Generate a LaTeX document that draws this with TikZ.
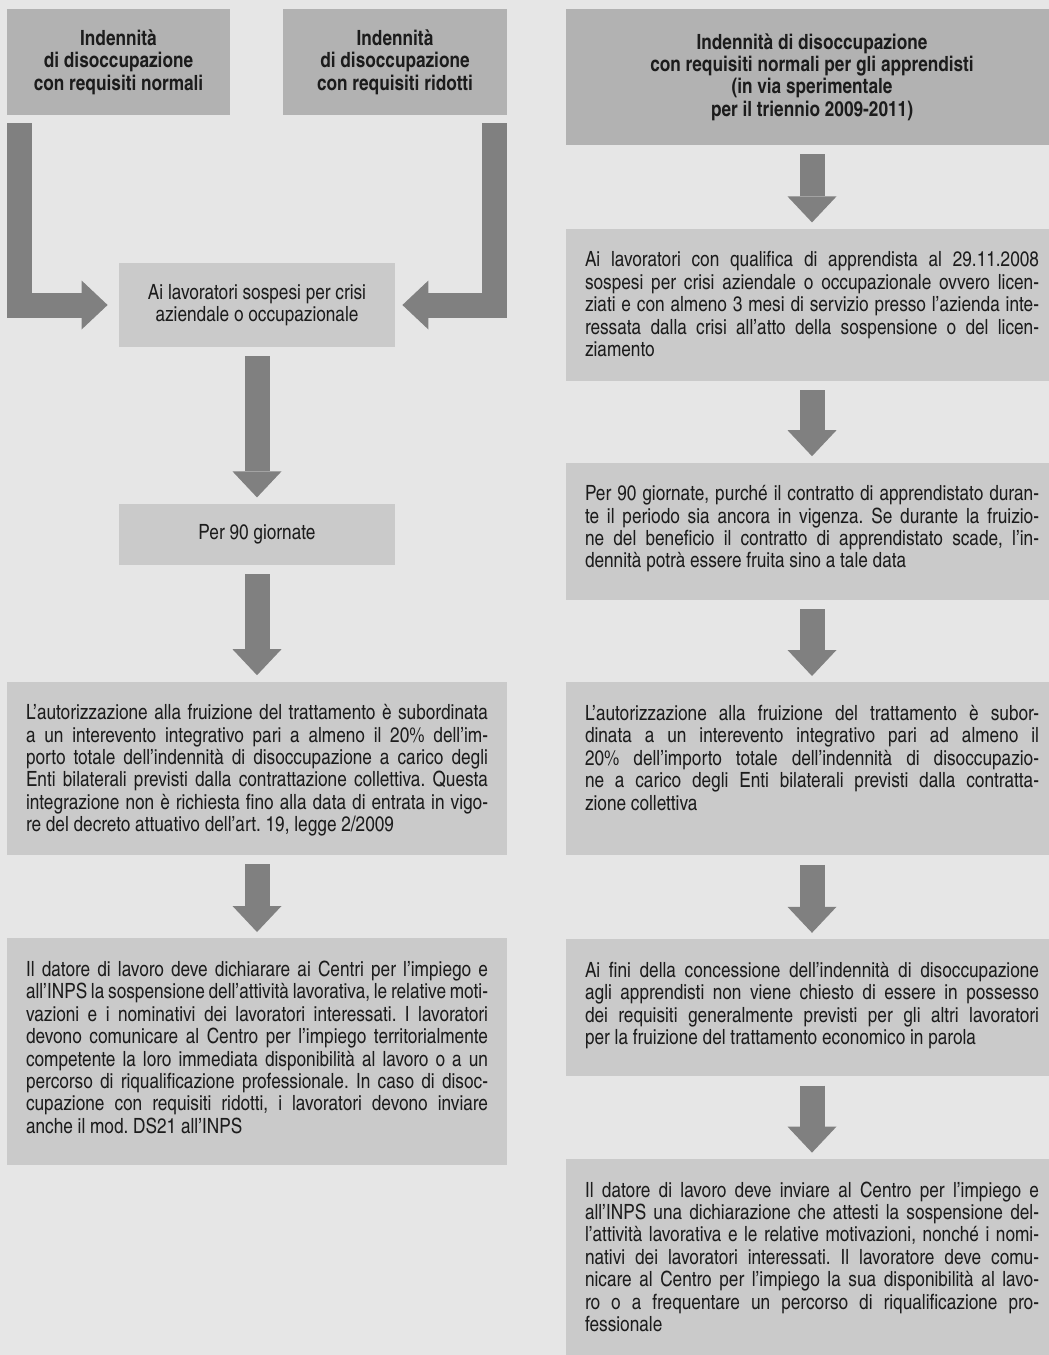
\documentclass[tikz,border=0pt]{standalone}
\usepackage{fontspec}
\setmainfont{texgyreheroscn}[Extension=.otf, UprightFont=*-regular, BoldFont=*-bold,
  ItalicFont=*-italic, BoldItalicFont=*-bolditalic]
\usetikzlibrary{positioning, arrows.meta}

\definecolor{bggray}{RGB}{230,230,230}
\definecolor{headgray}{RGB}{178,178,178}
\definecolor{boxgray}{RGB}{202,202,202}
\definecolor{arrowgray}{RGB}{128,128,128}
\definecolor{inkgray}{RGB}{28,28,28}
\newcommand{\txtfont}{\fontsize{10.5pt}{11.2pt}\selectfont}
\hyphenpenalty=10000
\tolerance=9999
\frenchspacing

\begin{document}
\begin{tikzpicture}[x=0.5pt, y=-0.5pt, node distance=41pt,
  head/.style={fill=headgray, text=inkgray, font=\txtfont\bfseries, align=center, inner sep=0pt},
  plain/.style={fill=boxgray, text=inkgray, font=\txtfont, align=center, inner sep=0pt,
    minimum width=138pt},
  pane/.style={fill=boxgray, text=inkgray, font=\txtfont, align=justify,
    inner xsep=9.5pt, inner ysep=11pt, text height=8pt},
  flow/.style={draw=arrowgray, line width=12.5pt,
    -{Triangle[length=13pt, width=24.5pt, line width=0pt]},
    shorten <=4.5pt, shorten >=3pt}]
\useasboundingbox[fill=bggray] (0,0) rectangle (1049,1355);

% left column
\node[head, minimum width=111.5pt, minimum height=53pt] (normali) at (118.5,62)
  {Indennità\\di disoccupazione\\con requisiti normali};
\node[head, minimum width=112pt, minimum height=53pt] (ridotti) at (395,62)
  {Indennità\\di disoccupazione\\con requisiti ridotti};
\node[plain, minimum height=42pt] (sospesi) at (257,305)
  {Ai lavoratori sospesi per crisi\\aziendale o occupazionale};
\node[plain, minimum height=30.5pt, below=78pt of sospesi] (giorni) {Per 90 giornate};
\node[pane, text width=231pt, text depth=56.5pt, below=58pt of giorni] (integr)
  {L’autorizzazione alla fruizione del trattamento è subordinata\linebreak
   a un interevento integrativo pari a almeno il 20\% dell’im-\linebreak
   porto totale dell’indennità di disoccupazione a carico degli\linebreak
   Enti bilaterali previsti dalla contrattazione collettiva. Questa\linebreak
   integrazione non è richiesta fino alla data di entrata in vigo-\linebreak
   re del decreto attuativo dell’art. 19, legge 2/2009};
\node[pane, text width=231pt, text depth=83.5pt, below=41.5pt of integr] (datore)
  {Il datore di lavoro deve dichiarare ai Centri per l’impiego e\linebreak
   all’INPS la sospensione dell’attività lavorativa, le relative moti-\linebreak
   vazioni e i nominativi dei lavoratori interessati. I lavoratori\linebreak
   devono comunicare al Centro per l’impiego territorialmente\linebreak
   competente la loro immediata disponibilità al lavoro o a un\linebreak
   percorso di riqualificazione professionale. In caso di disoc-\linebreak
   cupazione con requisiti ridotti, i lavoratori devono inviare\linebreak
   anche il mod. DS21 all’INPS};

% right column
\node[head, minimum width=246pt, minimum height=68pt] (appr) at (812,77)
  {Indennità di disoccupazione\\con requisiti normali per gli apprendisti\\(in via sperimentale\\per il triennio 2009-2011)};
\node[pane, text width=227pt, text depth=46pt, below=41.5pt of appr] (qualifica)
  {Ai lavoratori con qualifica di apprendista al 29.11.2008\linebreak
   sospesi per crisi aziendale o occupazionale ovvero licen-\linebreak
   ziati e con almeno 3 mesi di servizio presso l’azienda inte-\linebreak
   ressata dalla crisi all’atto della sospensione o del licen-\linebreak
   ziamento};
\node[pane, text width=227pt, text depth=38.5pt, below=40.5pt of qualifica] (durata)
  {Per 90 giornate, purché il contratto di apprendistato duran-\linebreak
   te il periodo sia ancora in vigenza. Se durante la fruizio-\linebreak
   ne del beneficio il contratto di apprendistato scade, l’in-\linebreak
   dennità potrà essere fruita sino a tale data};
\node[pane, text width=227pt, text depth=56.5pt, below=of durata] (integrap)
  {L’autorizzazione alla fruizione del trattamento è subor-\linebreak
   dinata a un interevento integrativo pari ad almeno il\linebreak
   20\% dell’importo totale dell’indennità di disoccupazio-\linebreak
   ne a carico degli Enti bilaterali previsti dalla contratta-\linebreak
   zione collettiva};
\node[pane, text width=227pt, text depth=38.5pt, below=41.5pt of integrap] (requisiti)
  {Ai fini della concessione dell’indennità di disoccupazione\linebreak
   agli apprendisti non viene chiesto di essere in possesso\linebreak
   dei requisiti generalmente previsti per gli altri lavoratori\linebreak
   per la fruizione del trattamento economico in parola};
\node[pane, text width=227pt, text depth=80pt, below=of requisiti] (dichiara)
  {Il datore di lavoro deve inviare al Centro per l’impiego e\linebreak
   all’INPS una dichiarazione che attesti la sospensione del-\linebreak
   l’attività lavorativa e le relative motivazioni, nonché i nomi-\linebreak
   nativi dei lavoratori interessati. Il lavoratore deve comu-\linebreak
   nicare al Centro per l’impiego la sua disponibilità al lavo-\linebreak
   ro o a frequentare un percorso di riqualificazione pro-\linebreak
   fessionale};

% arrows
\draw[flow, shorten <=4pt, shorten >=5.5pt] ([xshift=6.5pt]normali.south west) |- (sospesi.west);
\draw[flow, shorten <=4pt, shorten >=3.5pt] ([xshift=-6.5pt]ridotti.south east) |- (sospesi.east);
\draw[flow] (sospesi) -- (giorni);
\draw[flow] (giorni) -- (integr);
\draw[flow] (integr) -- (datore);
\draw[flow] (appr) -- (qualifica);
\draw[flow] (qualifica) -- (durata);
\draw[flow] (durata) -- (integrap);
\draw[flow] (integrap) -- (requisiti);
\draw[flow] (requisiti) -- (dichiara);
\end{tikzpicture}
\end{document}
